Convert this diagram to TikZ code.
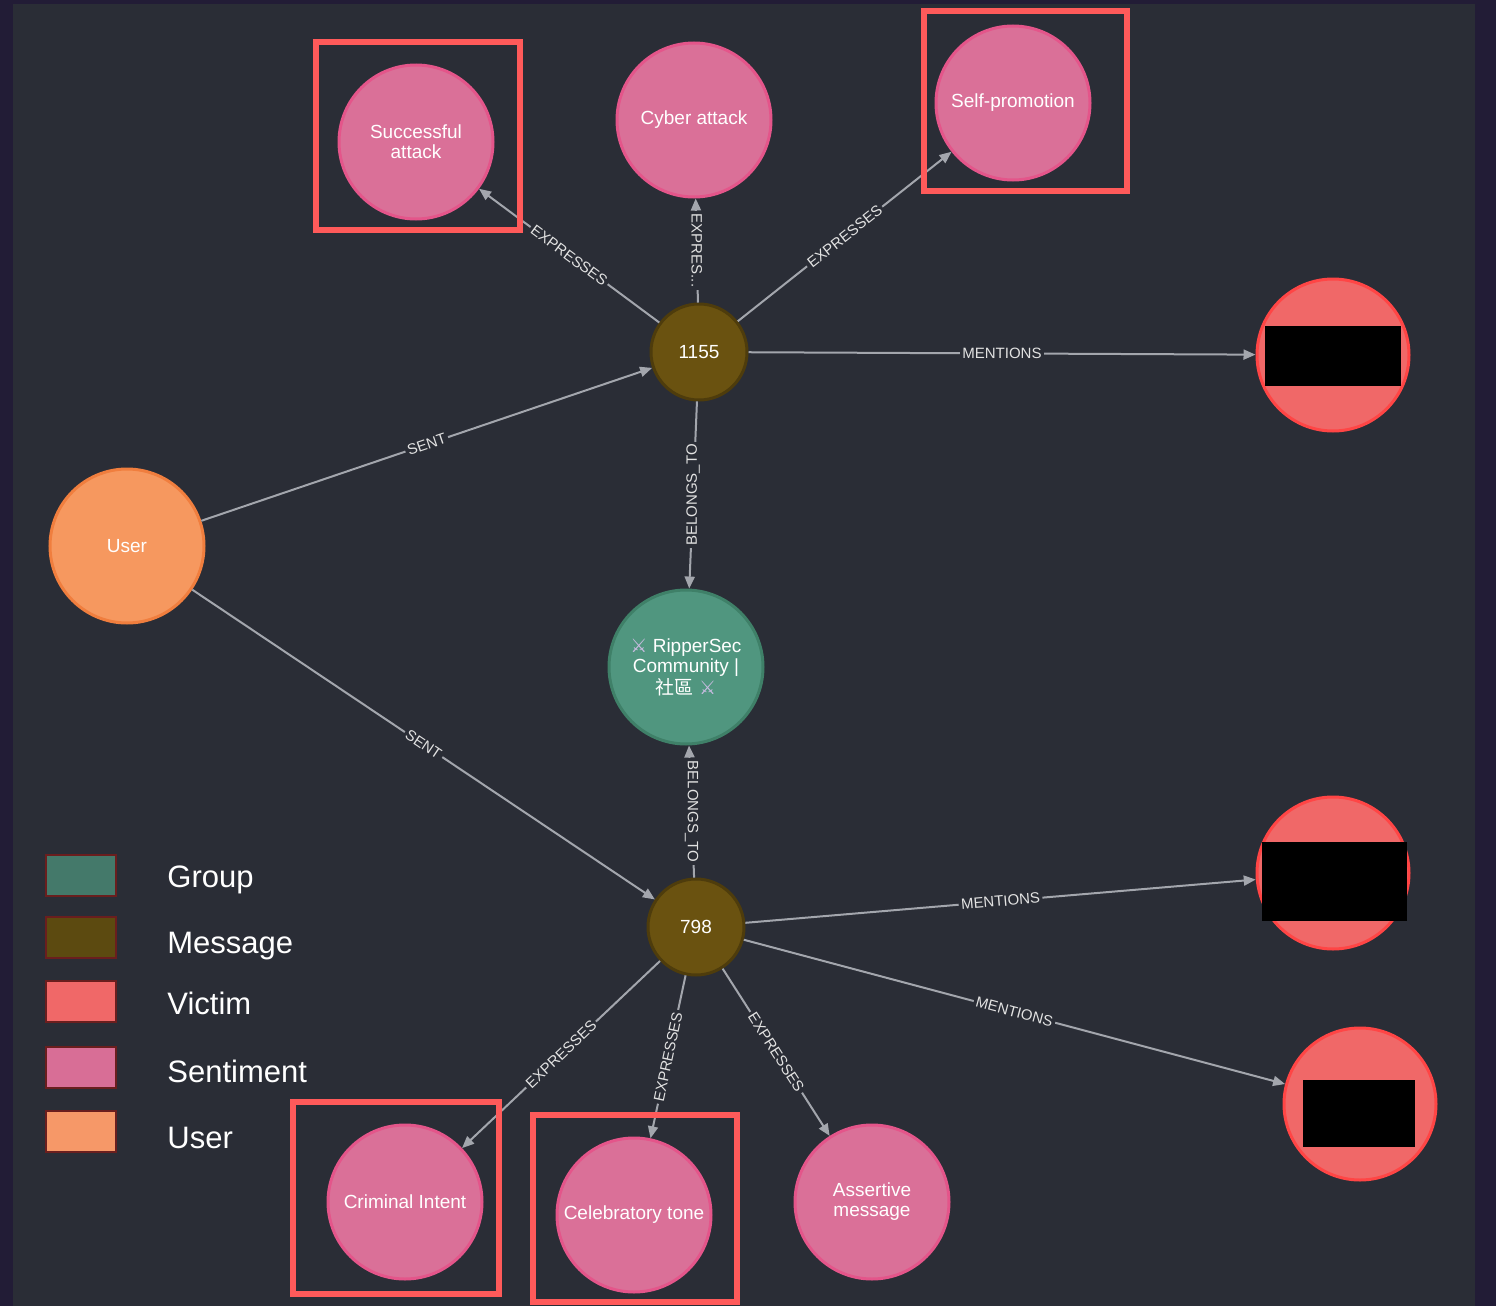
\documentclass[tikz,border=0pt]{standalone}
\usepackage{fontspec}
\setmainfont{Liberation Sans}
\newfontfamily\cjkfont{Noto Sans CJK TC}
\newfontfamily\symfont{DejaVu Sans}
\usetikzlibrary{arrows.meta}
\definecolor{outerbg}{HTML}{221C36}
\definecolor{innerbg}{HTML}{2A2D36}
\definecolor{edgec}{HTML}{A3A6AD}
\definecolor{labelc}{HTML}{E2E2E2}
\definecolor{sentfill}{HTML}{DA7098}
\definecolor{sentdraw}{HTML}{E4558A}
\definecolor{msgfill}{HTML}{6A5210}
\definecolor{msgdraw}{HTML}{4E3C0C}
\definecolor{grpfill}{HTML}{50967F}
\definecolor{grpdraw}{HTML}{3F8068}
\definecolor{usrfill}{HTML}{F6985F}
\definecolor{usrdraw}{HTML}{F07E3E}
\definecolor{vicfill}{HTML}{F06868}
\definecolor{vicdraw}{HTML}{FF4545}
\definecolor{hlred}{HTML}{FF5A5A}
\definecolor{lgGroup}{HTML}{44796A}
\definecolor{lgMessage}{HTML}{5C4A10}
\definecolor{lgVictim}{HTML}{F06868}
\definecolor{lgSentiment}{HTML}{D86E96}
\definecolor{lgUser}{HTML}{F69868}
\definecolor{lgborder}{HTML}{6A1E1E}
\definecolor{swordc}{HTML}{C8BCE0}
\newcommand{\swd}{{\symfont\color{swordc}⚔}}
\begin{document}
\begin{tikzpicture}[x=0.5pt,y=-0.5pt,
  gnode/.style={circle,inner sep=0pt,line width=1.5pt,text=white,align=center,
    font=\fontsize{9.5}{10}\selectfont},
  sentnode/.style={gnode,fill=sentfill,draw=sentdraw,minimum size=77pt},
  msgnode/.style={gnode,fill=msgfill,draw=msgdraw,minimum size=48pt},
  grpnode/.style={gnode,fill=grpfill,draw=grpdraw,minimum size=77pt},
  usrnode/.style={gnode,fill=usrfill,draw=usrdraw,minimum size=77pt},
  vicnode/.style={gnode,fill=vicfill,draw=vicdraw,minimum size=76pt},
  rel/.style={draw=edgec,line width=1pt,-{Triangle[length=6pt,width=5pt]}},
  rlabel/.style={sloped,fill=innerbg,text=labelc,inner sep=1.2pt,
    font=\fontsize{7.5}{8}\selectfont},
  vlabel/.style={fill=innerbg,text=labelc,inner sep=1.2pt,
    font=\fontsize{7.5}{8}\selectfont},
  hlbox/.style={draw=hlred,line width=3pt},
  legbox/.style={draw=lgborder,line width=1pt},
  legtext/.style={anchor=base west,text=white,font=\fontsize{15.5}{16}\selectfont,inner sep=0pt}
]
\useasboundingbox (0,0) rectangle (1496,1306);
\fill[outerbg] (0,0) rectangle (1496,1306);
\fill[innerbg] (13,4) rectangle (1475,1306);

% nodes
\node[sentnode] (succ) at (416,142) {Successful\\attack};
\node[sentnode] (cyber) at (694,120) {Cyber attack};
\node[sentnode] (self) at (1013,103) {Self-promotion};
\node[msgnode] (m1155) at (699,352) {1155};
\node[vicnode] (vic1) at (1333,355) {};
\node[usrnode] (user) at (127,546) {User};
\node[grpnode] (grp) at (686,667) {\swd\ RipperSec\\Community |\\{\cjkfont 社區} \swd};
\node[msgnode] (m798) at (696,927) {798};
\node[vicnode] (vic2) at (1333,873) {};
\node[vicnode] (vic3) at (1360,1104) {};
\node[sentnode] (crim) at (405,1202) {Criminal Intent};
\node[sentnode] (celeb) at (634,1215) {Celebratory tone};
\node[sentnode] (assert) at (872,1202) {Assertive\\message};

% redaction boxes
\fill[black] (1265,326) rectangle (1401,386);
\fill[black] (1262,842) rectangle (1407,921);
\fill[black] (1303,1080) rectangle (1415,1147);

% relationships
\draw[rel] (m1155) -- node[rlabel]{EXPRESSES} (succ);
\draw[rel] (m1155) -- node[vlabel,rotate=-90]{EXPRES...} (cyber);
\draw[rel] (m1155) -- node[rlabel]{EXPRESSES} (self);
\draw[rel] (m1155) -- node[rlabel]{MENTIONS} (vic1);
\draw[rel] (user) -- node[rlabel]{SENT} (m1155);
\draw[rel] (m1155) -- node[vlabel,rotate=90]{BELONGS\_TO} (grp);
\draw[rel] (m798) -- node[vlabel,rotate=-90]{BELONGS\_TO} (grp);
\draw[rel] (user) -- node[rlabel]{SENT} (m798);
\draw[rel] (m798) -- node[rlabel]{MENTIONS} (vic2);
\draw[rel] (m798) -- node[rlabel]{MENTIONS} (vic3);
\draw[rel] (m798) -- node[rlabel]{EXPRESSES} (crim);
\draw[rel] (m798) -- node[rlabel]{EXPRESSES} (celeb);
\draw[rel] (m798) -- node[rlabel]{EXPRESSES} (assert);

% highlight boxes
\draw[hlbox] (316,42) rectangle (520,230);
\draw[hlbox] (924,11) rectangle (1127,191);
\draw[hlbox] (293,1102) rectangle (499,1294);
\draw[hlbox] (533,1115) rectangle (737,1302);

% legend
\node[legbox,fill=lgGroup,minimum width=35pt,minimum height=20.5pt,inner sep=0pt] (lg1) at (81,875) {};
\node[legbox,fill=lgMessage,minimum width=35pt,minimum height=20.5pt,inner sep=0pt] (lg2) at (81,937.5) {};
\node[legbox,fill=lgVictim,minimum width=35pt,minimum height=20.5pt,inner sep=0pt] (lg3) at (81,1001) {};
\node[legbox,fill=lgSentiment,minimum width=35pt,minimum height=20.5pt,inner sep=0pt] (lg4) at (81,1067) {};
\node[legbox,fill=lgUser,minimum width=35pt,minimum height=20.5pt,inner sep=0pt] (lg5) at (81,1131) {};
\node[legtext] (lt1) at (167,887) {Group};
\node[legtext] (lt2) at (167,953) {Message};
\node[legtext] (lt3) at (167,1014) {Victim};
\node[legtext] (lt4) at (167,1082) {Sentiment};
\node[legtext] (lt5) at (167,1148) {User};
\end{tikzpicture}
\end{document}
